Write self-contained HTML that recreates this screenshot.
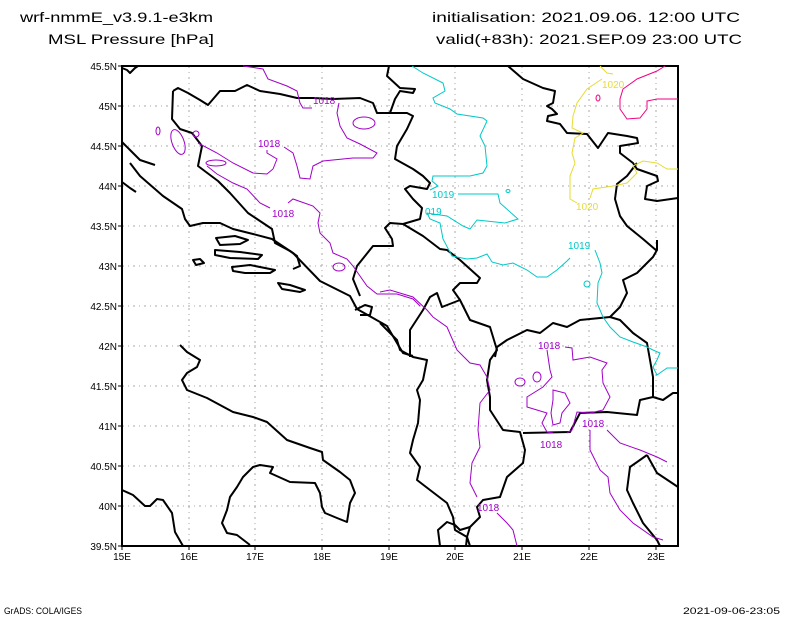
<!DOCTYPE html>
<html><head><meta charset="utf-8"><style>html,body{margin:0;padding:0;background:#fff}svg{display:block}</style></head>
<body>
<svg width="800" height="618" viewBox="0 0 800 618" xmlns="http://www.w3.org/2000/svg" font-family="Liberation Sans, sans-serif">
<rect width="800" height="618" fill="#fff"/>
<g font-size="14" fill="#000">
<text x="20" y="22" textLength="193" lengthAdjust="spacingAndGlyphs">wrf-nmmE_v3.9.1-e3km</text>
<text x="48" y="44" textLength="166" lengthAdjust="spacingAndGlyphs">MSL Pressure [hPa]</text>
<text x="432" y="22" textLength="308" lengthAdjust="spacingAndGlyphs">initialisation: 2021.09.06.  12:00 UTC</text>
<text x="436" y="44" textLength="306" lengthAdjust="spacingAndGlyphs">valid(+83h): 2021.SEP.09 23:00 UTC</text>
</g>
<g font-size="9" fill="#000">
<text x="4" y="614" textLength="78" lengthAdjust="spacingAndGlyphs">GrADS: COLA/IGES</text>
<text x="683" y="614" textLength="97" lengthAdjust="spacingAndGlyphs">2021-09-06-23:05</text>
</g>
<g stroke="#aaa" stroke-width="1" stroke-dasharray="2,4,1,4">
<line x1="189" y1="66" x2="189" y2="546"/><line x1="255" y1="66" x2="255" y2="546"/><line x1="322" y1="66" x2="322" y2="546"/><line x1="389" y1="66" x2="389" y2="546"/><line x1="455" y1="66" x2="455" y2="546"/><line x1="522" y1="66" x2="522" y2="546"/><line x1="589" y1="66" x2="589" y2="546"/><line x1="656" y1="66" x2="656" y2="546"/>
<line x1="122" y1="106" x2="678" y2="106"/><line x1="122" y1="146" x2="678" y2="146"/><line x1="122" y1="186" x2="678" y2="186"/><line x1="122" y1="226" x2="678" y2="226"/><line x1="122" y1="266" x2="678" y2="266"/><line x1="122" y1="306" x2="678" y2="306"/><line x1="122" y1="346" x2="678" y2="346"/><line x1="122" y1="386" x2="678" y2="386"/><line x1="122" y1="426" x2="678" y2="426"/><line x1="122" y1="466" x2="678" y2="466"/><line x1="122" y1="506" x2="678" y2="506"/>
</g>
<g stroke="#000" stroke-width="1">
<line x1="118" y1="66" x2="122" y2="66"/><line x1="118" y1="106" x2="122" y2="106"/><line x1="118" y1="146" x2="122" y2="146"/><line x1="118" y1="186" x2="122" y2="186"/><line x1="118" y1="226" x2="122" y2="226"/><line x1="118" y1="266" x2="122" y2="266"/><line x1="118" y1="306" x2="122" y2="306"/><line x1="118" y1="346" x2="122" y2="346"/><line x1="118" y1="386" x2="122" y2="386"/><line x1="118" y1="426" x2="122" y2="426"/><line x1="118" y1="466" x2="122" y2="466"/><line x1="118" y1="506" x2="122" y2="506"/><line x1="118" y1="546" x2="122" y2="546"/>
<line x1="122" y1="546" x2="122" y2="550"/><line x1="189" y1="546" x2="189" y2="550"/><line x1="255" y1="546" x2="255" y2="550"/><line x1="322" y1="546" x2="322" y2="550"/><line x1="389" y1="546" x2="389" y2="550"/><line x1="455" y1="546" x2="455" y2="550"/><line x1="522" y1="546" x2="522" y2="550"/><line x1="589" y1="546" x2="589" y2="550"/><line x1="656" y1="546" x2="656" y2="550"/>
</g>
<g font-size="10" fill="#000" text-anchor="end">
<text x="117" y="70">45.5N</text><text x="117" y="110">45N</text><text x="117" y="150">44.5N</text><text x="117" y="190">44N</text><text x="117" y="230">43.5N</text><text x="117" y="270">43N</text><text x="117" y="310">42.5N</text><text x="117" y="350">42N</text><text x="117" y="390">41.5N</text><text x="117" y="430">41N</text><text x="117" y="470">40.5N</text><text x="117" y="510">40N</text><text x="117" y="550">39.5N</text>
</g>
<g font-size="10" fill="#000" text-anchor="middle">
<text x="122" y="560">15E</text><text x="189" y="560">16E</text><text x="255" y="560">17E</text><text x="322" y="560">18E</text><text x="389" y="560">19E</text><text x="455" y="560">20E</text><text x="522" y="560">21E</text><text x="589" y="560">22E</text><text x="656" y="560">23E</text>
</g>
<g fill="none" stroke="#000" stroke-width="2" stroke-linejoin="round">
<polyline points="122,68 127,70 130,73 135,68 138,66"/>
<polyline points="173,91 178,88 188,93 200,100 208,105 220,91 235,91 247,85 260,91 280,94 297,98 313,98 333,99 360,98 373,103 377,113 390,113 407,113 413,116 407,129 397,146 395,159 413,169 423,176 430,183 427,189 410,186 405,189 413,199 422,208 420,219 403,224 390,223 385,228 392,239 393,246 373,246 357,266 353,279 360,296"/>
<polyline points="389,66 387,76 400,88 415,89 413,93 400,91 395,99 390,113"/>
<polyline points="403,224 423,236 440,249 447,250 460,260 480,278 477,283 460,283 453,290 460,300"/>
<polyline points="173,91 172,119 180,129 192,133 202,146 198,166 218,181 230,193 248,213 272,229 275,243 290,251 297,256 300,266 293,269"/>
<polyline points="122,142 130,150 140,160 155,165"/>
<polyline points="122,182 130,188 136,192"/>
<polyline points="130,163 140,176 163,196 182,209 185,219 190,226 203,223 220,223 233,229 253,234 272,239 293,253 320,281 350,296 357,309 373,318 387,326 397,343 403,353 413,356"/>
<polygon points="216,238 235,236 248,240 240,244 220,245"/>
<polygon points="215,250 240,252 262,255 258,259 230,258 215,255"/>
<polygon points="193,260 200,259 204,263 196,265"/>
<polygon points="232,267 250,265 275,270 270,273 245,273 233,271"/>
<polygon points="278,283 290,285 305,290 300,292 282,289"/>
<polyline points="380,323 397,340 400,350 413,357 427,360 423,380 417,390 420,400 418,423 413,440 410,453 420,467 417,480 430,490 447,503 453,517 455,530 467,537 470,546"/>
<polyline points="410,357 410,330 423,310 430,297 437,293 442,307 460,300 470,320 490,327 497,350 490,360 487,380 490,397 490,410 503,430 520,432 525,450 523,463 507,477 500,497 483,500 477,507 480,517 470,527 467,537 466,546"/>
<polyline points="495,357 497,347 507,340 527,330 540,333 553,323 567,327 580,320 610,317 620,320 633,333 647,343 650,360 653,377 653,397 640,400 637,415 607,412 580,413 570,432 523,433"/>
<polyline points="610,317 620,307 627,293 623,280 637,273 653,257 657,250 657,240"/>
<polyline points="653,397 663,400 673,393 678,393"/>
<polyline points="647,455 657,473 678,487"/>
<polyline points="647,455 630,467 627,490 633,503 643,523 657,540 660,546"/>
<polyline points="508,66 523,79 543,88 555,91 553,103 547,106 552,109 557,114 548,116 547,121 560,124 567,133 587,134 598,148 608,133 627,136 637,138 638,143 620,146 620,153 633,163 637,169 657,176 658,181 647,186 645,199 657,201 678,198"/>
<polyline points="637,163 627,176 617,184 615,199 620,216 627,226 643,239 657,251"/>
<polyline points="180,345 187,352 200,360 197,367 187,373 182,380 187,390 207,398 233,412 253,417 267,422 287,440 310,448 322,452 323,460 340,472 350,480 355,493 350,503 347,522 337,518 325,513 322,507 320,493 315,483 290,482 270,473 273,467 260,465 253,467 243,477 237,487 230,497 227,510 222,523 227,533 237,535 250,545"/>
<polyline points="122,490 133,495 145,506 150,506 157,499 163,500 172,513 175,532 183,546"/>
<polyline points="440,546 438,530 447,522 455,525 460,530 470,527"/>
<polyline points="355,310 365,305 372,307 370,315 360,315"/>
</g>
<rect x="122" y="66" width="556" height="480" fill="none" stroke="#000" stroke-width="2"/>
<g fill="none" stroke="#00c8c8" stroke-width="1">
<polyline points="412,66 423,73 443,83 445,91 433,98 435,103 450,109 457,114 483,118 487,121 480,136 485,146 487,166 483,173 470,176 433,176 432,181 438,186 430,190"/>
<polyline points="458,194 498,194 500,203 518,219 505,223 477,220 470,229 463,226 447,216 433,214 427,213"/>
<polyline points="427,213 430,219 440,223 443,239 452,256 467,259 477,258 487,254 492,262 503,265 513,263 527,270 537,277 547,277 557,270 567,261 570,258"/>
<polyline points="595,250 600,263 602,273 598,283 597,303 603,317 610,327 620,337 633,342 647,347 653,350 660,353 657,360 653,367 657,375 667,368 678,368"/>
<ellipse cx="587" cy="284" rx="3" ry="3"/>
<ellipse cx="508" cy="191" rx="2" ry="1.5"/>
</g>
<g font-size="10" fill="#00c8c8"><text x="432" y="198">1019</text><text x="425" y="215">019</text><text x="568" y="249">1019</text></g>
<g fill="none" stroke="#e6dc32" stroke-width="1">
<polyline points="600,66 607,73 613,74"/>
<polyline points="602,79 587,89 577,103 573,116 572,128 583,133 575,138 572,153 575,163 570,176 570,199 577,203"/>
<polyline points="590,198 593,189 613,186 627,183 637,173 633,166 643,161 657,163 667,169 678,169"/>
</g>
<g font-size="10" fill="#e6dc32"><text x="602" y="88">1020</text><text x="576" y="210">1020</text></g>
<g fill="none" stroke="#f00082" stroke-width="1">
<polyline points="665,66 657,71 637,79 623,89 620,99 620,109 627,119 640,118 647,109 647,101 657,99 678,99"/>
<ellipse cx="598" cy="98" rx="2" ry="3"/>
</g>
<g fill="none" stroke="#a000c8" stroke-width="1">
<polyline points="243,66 263,69 268,79 287,86 297,91 300,103 303,108 312,108"/>
<polyline points="339,103 337,113 340,126 347,138 360,144 377,153 373,158 353,158 323,161 313,166 310,179 300,178 297,166 293,153 287,149 284,147"/>
<polyline points="267,150 267,153 277,159 273,169 267,174 253,173 233,163 217,153 198,143"/>
<ellipse cx="216" cy="163" rx="10" ry="3"/>
<polyline points="207,166 217,174 233,183 247,189 260,203 270,208"/>
<polyline points="288,203 293,199 313,206 320,213 318,223 320,233 330,243 333,253 347,259 353,266 367,286 377,294 397,294 413,299 420,306"/>
<polyline points="380,292 390,290 413,297 427,310 433,317 447,327 457,350 470,363 480,365 487,377 490,390 480,403 478,430 480,447 472,463 470,483 477,497"/>
<polyline points="497,513 507,523 513,530 517,546"/>
<ellipse cx="364" cy="123" rx="11" ry="6"/>
<ellipse cx="158" cy="131" rx="2" ry="4"/>
<ellipse cx="178" cy="142" rx="6" ry="13" transform="rotate(-20 178 142)"/>
<ellipse cx="196" cy="134" rx="3" ry="3"/>
<ellipse cx="339" cy="267" rx="6" ry="4"/>
<polyline points="547,350 550,370 552,377 543,387 527,397 527,407 537,410 547,413 542,423 547,432 553,433"/>
<polyline points="565,347 572,348 573,360 590,357 607,363 602,370 603,383 610,397 603,410 590,413 577,412 572,430 567,433"/>
<polygon points="553,390 565,393 570,403 562,413 560,423 553,425 551,413 553,400"/>
<ellipse cx="520" cy="382" rx="5" ry="4"/>
<ellipse cx="537" cy="377" rx="4" ry="5"/>
<polyline points="590,430 590,450 600,470 608,477 610,493 620,510 633,523 653,537 663,540"/>
<polyline points="607,430 620,443 640,450 657,457 667,462"/>
</g>
<g font-size="10" fill="#a000c8"><text x="313" y="104">1018</text><text x="258" y="147">1018</text><text x="272" y="217">1018</text><text x="538" y="349">1018</text><text x="540" y="448">1018</text><text x="582" y="427">1018</text><text x="477" y="511">1018</text></g>
</svg>
</body></html>
